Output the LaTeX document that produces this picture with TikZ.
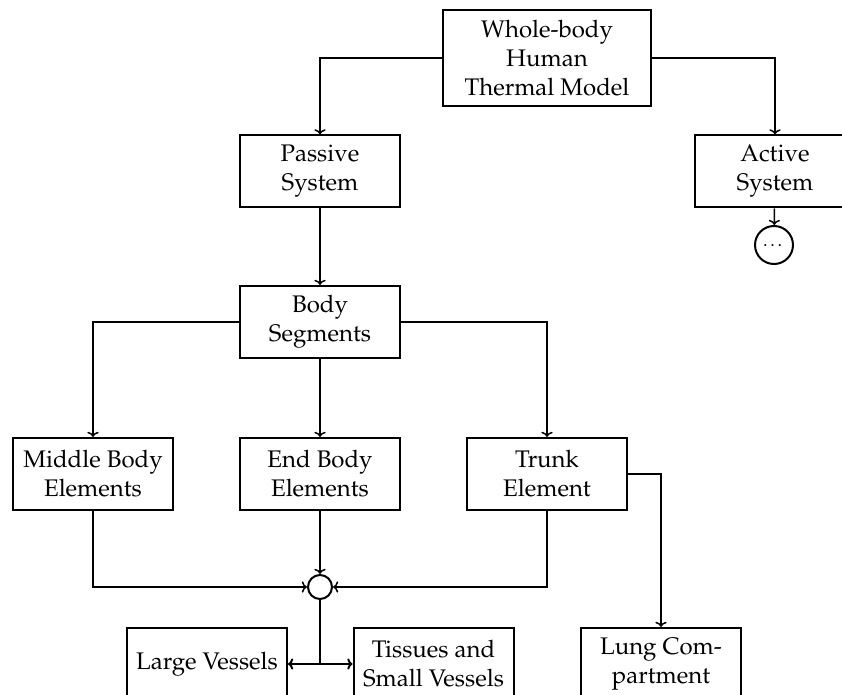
\documentclass[tikz,border=0pt]{standalone}
\usepackage[T1]{fontenc}
\usepackage{mathpazo}
\usetikzlibrary{arrows.meta}

\tikzset{
  box/.style={draw, line width=1pt, minimum width=80pt, minimum height=36pt,
    inner sep=0pt, align=center, font=\fontsize{12}{14.5}\selectfont},
  link/.style={-{To[length=2.6pt,width=5.6pt]}, line width=0.75pt},
  hub/.style={draw, circle, line width=1pt, inner sep=0pt},
}

\begin{document}
\begin{tikzpicture}[x=0.5pt, y=-0.5pt]
  \useasboundingbox (0,0) rectangle (842,695);
  \clip (0,0) rectangle (842,695);

  % top level
  \node[box, minimum width=104pt, minimum height=48pt] (whole) at (547,58)
    {Whole-body\\Human\\Thermal Model};
  \node[box] (passive) at (320,171.5) {Passive\\System};
  \node[box] (active) at (775,171.5) {Active\\System};
  \node[hub, minimum size=19pt, font=\small] (more) at (774,245) {\dots};

  % body segments and elements
  \node[box] (segments) at (320,322) {Body\\Segments};
  \node[box] (middle) at (93,474) {Middle Body\\Elements};
  \node[box] (endel) at (320,474) {End Body\\Elements};
  \node[box] (trunk) at (547,474) {Trunk\\Element};

  % junction and compartments
  \node[hub, minimum size=12pt] (junc) at (320,587) {};
  \node[box] (large) at (207,664) {Large Vessels};
  \node[box] (tissue) at (433.5,664) {Tissues and\\Small Vessels};
  \node[box] (lung) at (661,664) {Lung Com-\\partment};

  % connectors
  \draw[link] (whole.west) -| (passive.north);
  \draw[link] (whole.east) -| (active.north);
  \draw[link] (active) -- (more);
  \draw[link] (passive) -- (segments);
  \draw[link] (segments.west) -| (middle.north);
  \draw[link] (segments) -- (endel);
  \draw[link] (segments.east) -| (trunk.north);
  \draw[link] (middle.south) |- (junc.west);
  \draw[link] (endel) -- (junc);
  \draw[link] (trunk.south) |- (junc.east);
  \draw[link] (trunk.east) -| (lung.north);

  \coordinate (split) at (junc.south |- large.east);
  \draw[line width=1pt] (junc.south) -- (split);
  \draw[link, line width=1pt] (split) -- (large.east);
  \draw[link, line width=1pt] (split) -- (tissue.west);
\end{tikzpicture}
\end{document}
